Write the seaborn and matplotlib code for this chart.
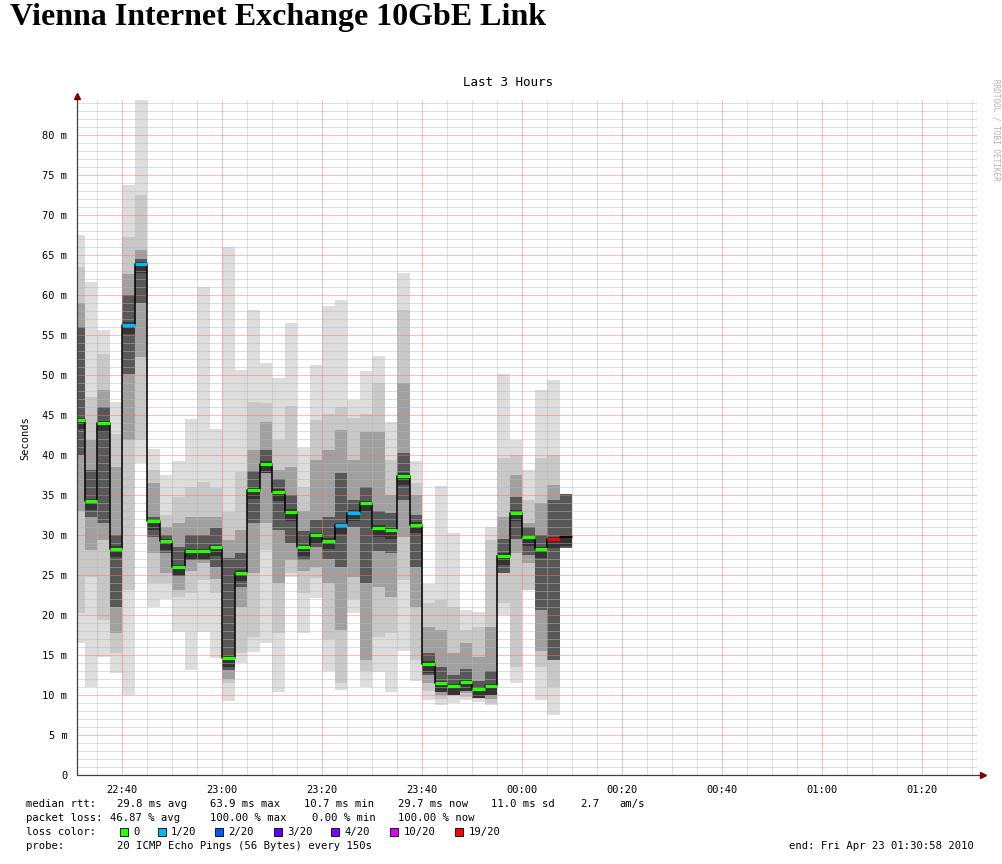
import numpy as np
import pandas as pd
import seaborn as sns
import matplotlib.pyplot as plt
import matplotlib.dates as mdates
from matplotlib.lines import Line2D
from matplotlib.patches import Rectangle
from matplotlib.ticker import MultipleLocator, FuncFormatter

# median rtt per 150s step (ms), starting 22:30:00
median_rtt = [44.4, 34.2, 44.0, 28.3, 56.3, 63.9, 31.7, 29.2, 26.0, 28.0,
              28.0, 28.5, 14.6, 25.3, 35.6, 38.9, 35.4, 32.9, 28.5, 30.0,
              29.3, 31.2, 32.8, 34.0, 30.9, 30.6, 37.4, 31.3, 13.9, 11.5,
              11.1, 11.6, 10.7, 11.1, 27.4, 32.8, 29.7, 28.2, 29.5, 29.7]
# smoke: full range of the 20 pings
rtt_min = [16.5, 11.0, 14.8, 12.8, 10.0, 39.0, 21.0, 22.0, 17.9, 13.1,
           17.9, 14.6, 9.2, 14.0, 15.4, 16.5, 10.4, 24.8, 17.7, 22.1,
           13.0, 10.6, 20.2, 11.0, 12.9, 10.4, 15.5, 11.7, 9.4, 8.75,
           9.0, 9.4, 9.1, 8.75, 20.0, 11.5, 23.1, 9.4, 7.5, 28.4]
rtt_max = [67.5, 61.7, 55.6, 46.7, 73.8, 84.4, 40.7, 37.5, 39.25, 44.5,
           61.0, 43.25, 66.0, 50.6, 58.1, 51.5, 49.6, 56.5, 40.9, 51.25,
           58.7, 59.4, 46.9, 50.5, 52.4, 44.1, 62.8, 39.2, 23.9, 36.1,
           30.2, 20.6, 20.4, 31.0, 50.1, 41.9, 38.1, 48.1, 49.4, 35.1]
# inner smoke bands (lo, hi)
band1 = [(20.2, 63.5), (24.8, 47.3), (19.4, 52.7), (15.2, 42.7), (23.1, 67.3),
         (41.9, 72.5), (24.0, 38.1), (24.0, 32.5), (22.3, 34.75), (22.7, 36.0),
         (24.4, 36.6), (22.7, 35.9), (11.5, 32.9), (15.2, 37.9), (17.3, 46.7),
         (28.1, 46.5), (17.7, 41.9), (25.2, 46.2), (22.7, 36.0), (24.6, 44.4),
         (17.0, 45.2), (11.5, 46.0), (22.0, 44.6), (13.0, 45.2), (17.25, 49.0),
         (17.75, 39.4), (24.4, 58.1), (14.4, 36.5), (10.5, 21.5), (9.5, 21.9),
         (10.0, 21.0), (9.8, 18.1), (9.5, 18.5), (9.0, 29.4), (21.5, 39.6),
         (13.5, 40.0), (23.1, 34.4), (13.5, 39.6), (11.0, 40.0), (28.4, 35.1)]
band2 = [(33.0, 59.0), (28.1, 41.9), (29.4, 48.1), (17.7, 38.5), (41.9, 62.7),
         (52.3, 65.6), (27.7, 36.5), (25.2, 31.0), (23.1, 31.5), (25.5, 32.3),
         (26.5, 32.3), (24.5, 32.3), (12.0, 29.4), (21.0, 30.6), (25.2, 40.6),
         (31.5, 44.2), (24.0, 38.1), (26.9, 38.5), (25.5, 33.0), (26.0, 39.4),
         (24.0, 40.6), (18.1, 43.1), (24.75, 39.4), (14.4, 42.9), (23.5, 42.9),
         (22.3, 35.0), (29.8, 49.0), (21.0, 35.0), (11.5, 18.5), (10.0, 18.1),
         (10.5, 15.2), (10.2, 16.5), (9.8, 14.8), (9.5, 18.5), (25.2, 32.3),
         (27.7, 37.5), (26.5, 31.5), (15.5, 34.0), (14.4, 36.25), (28.4, 35.1)]
core = [(40.0, 56.0), (32.3, 38.1), (31.5, 46.0), (21.0, 30.0), (50.2, 60.0),
        (59.0, 64.5), (29.8, 32.3), (27.7, 30.0), (25.0, 28.5), (26.9, 30.0),
        (27.3, 30.0), (26.0, 30.9), (13.1, 27.1), (23.5, 27.7), (31.5, 38.0),
        (37.7, 40.6), (30.6, 37.0), (29.0, 35.0), (26.9, 30.5), (28.5, 31.9),
        (27.0, 32.3), (26.0, 37.7), (31.0, 34.4), (24.0, 36.0), (28.0, 33.0),
        (27.7, 32.7), (34.4, 40.2), (26.0, 32.5), (12.5, 15.2), (10.5, 13.5),
        (10.5, 12.5), (10.5, 13.3), (10.0, 11.8), (10.0, 13.0), (25.2, 29.5),
        (29.5, 34.8), (27.5, 31.0), (20.6, 30.0), (14.4, 34.4), (28.4, 35.1)]
# loss colour index per step (-1 = no colour)
loss_idx = [0, 0, 0, 0, 1, 1, 0, 0, 0, 0,
            0, 0, 0, 0, 0, 0, 0, 0, 0, 0,
            0, 1, 1, 0, 0, 0, 0, 0, 0, 0,
            0, 0, 0, 0, 0, 0, 0, 0, 6, -1]
loss_labels = ["0", "1/20", "2/20", "3/20", "4/20", "10/20", "19/20"]
loss_colors = ["#26ff00", "#00b8ff", "#0059ff", "#5e00ff", "#7e00ff", "#dd00ff", "#ff0000"]

W, H = 1003, 864
MONO = "DejaVu Sans Mono"

sns.set_theme(style="white")
plt.rcParams["font.family"] = [MONO]
plt.rcParams["text.color"] = "black"

starts = pd.date_range("2010-04-22 22:30:00", periods=len(median_rtt), freq="150s")
x0 = mdates.date2num(starts.to_pydatetime())
step = 150 / 86400.0

fig = plt.figure(figsize=(W / 100, H / 100), dpi=100)
ax = fig.add_axes([77 / W, 1 - 775 / H, 900 / W, 675 / H])

# smoke layers, light outside to dark near the median
lo = np.array(rtt_min); hi = np.array(rtt_max)
ax.bar(x0, hi - lo, bottom=lo, width=step, align="edge", color="#dddddd", lw=0, zorder=1)
for band, col in [(band1, "#c8c8c8"), (band2, "#a0a0a0"), (core, "#585858")]:
    b = np.array(band)
    ax.bar(x0, b[:, 1] - b[:, 0], bottom=b[:, 0], width=step, align="edge",
           color=col, lw=0, zorder=1)
med = np.array(median_rtt)
ax.bar(x0, 1.4, bottom=med - 1.1, width=step, align="edge", color="#333333", lw=0, zorder=1)

# median line
xs = list(x0) + [x0[-1] + step]
ys = median_rtt + [median_rtt[-1]]
sns.lineplot(x=xs, y=ys, drawstyle="steps-post", color="black", lw=1.1,
             estimator=None, sort=False, ax=ax, zorder=3)
for xi, m, li in zip(x0, median_rtt, loss_idx):
    if li >= 0:
        ax.hlines(m, xi, xi + step, colors=loss_colors[li], lw=2.3, zorder=4)

# axes
t_start = mdates.date2num(pd.Timestamp("2010-04-22 22:30:58").to_pydatetime())
ax.set_xlim(t_start, t_start + 3 / 24)
ax.set_ylim(0, 84.4)
ax.xaxis.set_major_locator(mdates.MinuteLocator(byminute=[0, 20, 40]))
ax.xaxis.set_minor_locator(mdates.MinuteLocator(byminute=range(0, 60, 5)))
ax.xaxis.set_major_formatter(mdates.DateFormatter("%H:%M"))
ax.yaxis.set_major_locator(MultipleLocator(5))
ax.yaxis.set_minor_locator(MultipleLocator(1))
ax.yaxis.set_major_formatter(FuncFormatter(lambda v, p: "0" if v == 0 else f"{v:g} m"))
ax.set_axisbelow(False)
ax.grid(which="minor", color="#b8b8b8", alpha=0.45, lw=0.75)
ax.grid(which="major", color="#ff7070", alpha=0.45, lw=0.75)
ax.tick_params(which="major", length=3, width=0.75, color="#f4a0a0", labelsize=7.5,
               pad=4, labelcolor="black")
ax.tick_params(which="minor", length=2, width=0.75, color="#d8d8d8")
for s in ax.spines.values():
    s.set_visible(False)
ax.set_xlabel(""); ax.set_ylabel("")

# axis lines with arrows
fig.add_artist(Line2D([77 / W, 77 / W], [1 - 775 / H, 1 - 95 / H], color="#404040", lw=0.9))
fig.add_artist(Line2D([77 / W, 983 / W], [1 - 775 / H, 1 - 775 / H], color="#404040", lw=0.9))
fig.add_artist(Line2D([77 / W], [1 - 96 / H], marker="^", ms=4.5, color="#800000", lw=0))
fig.add_artist(Line2D([983 / W], [1 - 775 / H], marker=">", ms=4.5, color="#800000", lw=0))


def ftext(x, y, s, va="center", **kw):
    fig.text(x / W, 1 - y / H, s, va=va, **kw)


ftext(10, 25, "Vienna Internet Exchange 10GbE Link", va="baseline",
      family="Liberation Serif", weight="bold", size=23)
ftext(508, 83, "Last 3 Hours", ha="center", size=9)
ftext(25, 438, "Seconds", ha="center", rotation=90, size=7.5)
ftext(996, 130, "RRDTOOL / TOBI OETIKER", ha="center", rotation=270, size=5.5, color="#b0b0b0")

fs = 7.6
ftext(26, 804, "median rtt:", size=fs)
for x, s in [(117, "29.8 ms avg"), (210.5, "63.9 ms max"), (304.5, "10.7 ms min"),
             (398, "29.7 ms now"), (491.5, "11.0 ms sd"), (580, "2.7"), (619, "am/s")]:
    ftext(x, 804, s, size=fs)
ftext(26, 818, "packet loss:", size=fs)
for x, s in [(110, "46.87 % avg"), (210.5, "100.00 % max"), (312, "0.00 % min"),
             (398, "100.00 % now")]:
    ftext(x, 818, s, size=fs)
ftext(26, 832, "loss color:", size=fs)
for x, lab, col in zip([120, 157.7, 214.6, 273.8, 331.5, 390.4, 455], loss_labels, loss_colors):
    fig.add_artist(Rectangle((x / W, 1 - 836 / H), 8 / W, 8 / H, transform=fig.transFigure,
                             facecolor=col, edgecolor="black", lw=0.6))
    ftext(x + 13.5, 832, lab, size=fs)
ftext(26, 846, "probe:", size=fs)
ftext(117, 846, "20 ICMP Echo Pings (56 Bytes) every 150s", size=fs)
ftext(789, 846, "end: Fri Apr 23 01:30:58 2010", size=fs)

fig.savefig("out.png", dpi=100)
